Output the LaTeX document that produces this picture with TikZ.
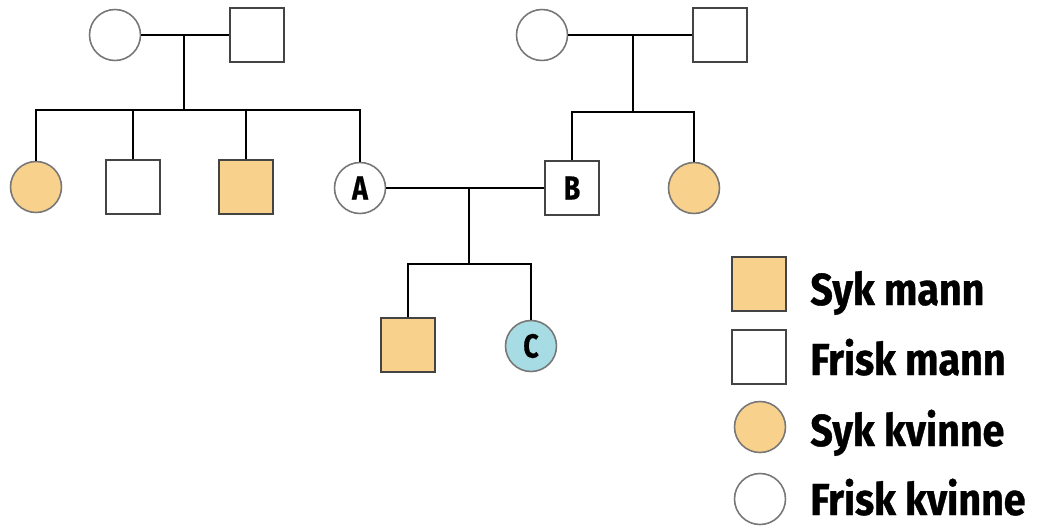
\documentclass[tikz,border=0pt]{standalone}
\usepackage{fontspec}
\newfontfamily\lab[FakeStretch=0.8,FakeBold=0.6]{Fira Sans}
\newfontfamily\leg[FakeStretch=0.88,FakeBold=0.8]{Fira Sans}
\definecolor{sick}{HTML}{F8D18C}
\definecolor{cblue}{HTML}{A8DCE4}
\definecolor{fline}{HTML}{777777}
\definecolor{mline}{HTML}{444444}
\tikzset{
  fem/.style={circle, draw=fline, line width=0.9pt, fill=white, minimum size=1.02cm, inner sep=0pt, font=\lab\bfseries\fontsize{19}{22}\selectfont},
  mal/.style={rectangle, draw=mline, line width=0.9pt, fill=white, minimum size=1.07cm, inner sep=0pt, font=\lab\bfseries\fontsize{19}{22}\selectfont},
  sickfill/.style={fill=sick},
  link/.style={line width=1.5pt, black},
  legtext/.style={anchor=base west, inner sep=0pt, font=\leg\bfseries\fontsize{25.5}{29}\selectfont}
}
\begin{document}
\begin{tikzpicture}[x=0.02cm,y=-0.02cm]
\useasboundingbox (0,0) rectangle (1042,529);
% left grandparents
\node[fem] (gm1) at (115,35) {};
\node[mal] (gf1) at (257,35) {};
\coordinate (m1) at (184,35);
\coordinate (s1) at (184,110);
% left children
\node[fem, sickfill] (c1) at (36,187) {};
\node[mal] (c2) at (133,187) {};
\node[mal, sickfill] (c3) at (246,187) {};
\node[fem] (A) at (360,188) {A};
% right grandparents
\node[fem] (gm2) at (542,35) {};
\node[mal] (gf2) at (720,35) {};
\coordinate (m2) at (633,35);
\coordinate (s2) at (633,112);
% right children
\node[mal] (B) at (572,188) {B};
\node[fem, sickfill] (c5) at (694,188) {};
% A-B children
\coordinate (m3) at (469,188);
\coordinate (s3) at (469,264);
\node[mal, sickfill] (c6) at (408,345) {};
\node[fem, fill=cblue] (C) at (531,346) {C};
% connectors
\draw[link] (gm1) -- (gf1);
\draw[link] (m1) -- (s1);
\draw[link] (c1.north) -- (c1.north |- s1) -- (A.north |- s1) -- (A.north);
\draw[link] (c2.north) -- (c2.north |- s1);
\draw[link] (c3.north) -- (c3.north |- s1);
\draw[link] (gm2) -- (gf2);
\draw[link] (m2) -- (s2);
\draw[link] (B.north) -- (B.north |- s2) -- (c5.north |- s2) -- (c5.north);
\draw[link] (A) -- (B);
\draw[link] (m3) -- (s3);
\draw[link] (c6.north) -- (c6.north |- s3) -- (C.north |- s3) -- (C.north);
% legend
\node[mal, sickfill] (l1) at (759,284) {};
\node[mal] (l2) at (759,357) {};
\node[fem, sickfill] (l3) at (760,427) {};
\node[fem] (l4) at (760,499) {};
\node[legtext] (t1) at (810,305) {Syk mann};
\node[legtext] (t2) at (810,375) {Frisk mann};
\node[legtext] (t3) at (810,446) {Syk kvinne};
\node[legtext] (t4) at (810,515) {Frisk kvinne};
\end{tikzpicture}
\end{document}
